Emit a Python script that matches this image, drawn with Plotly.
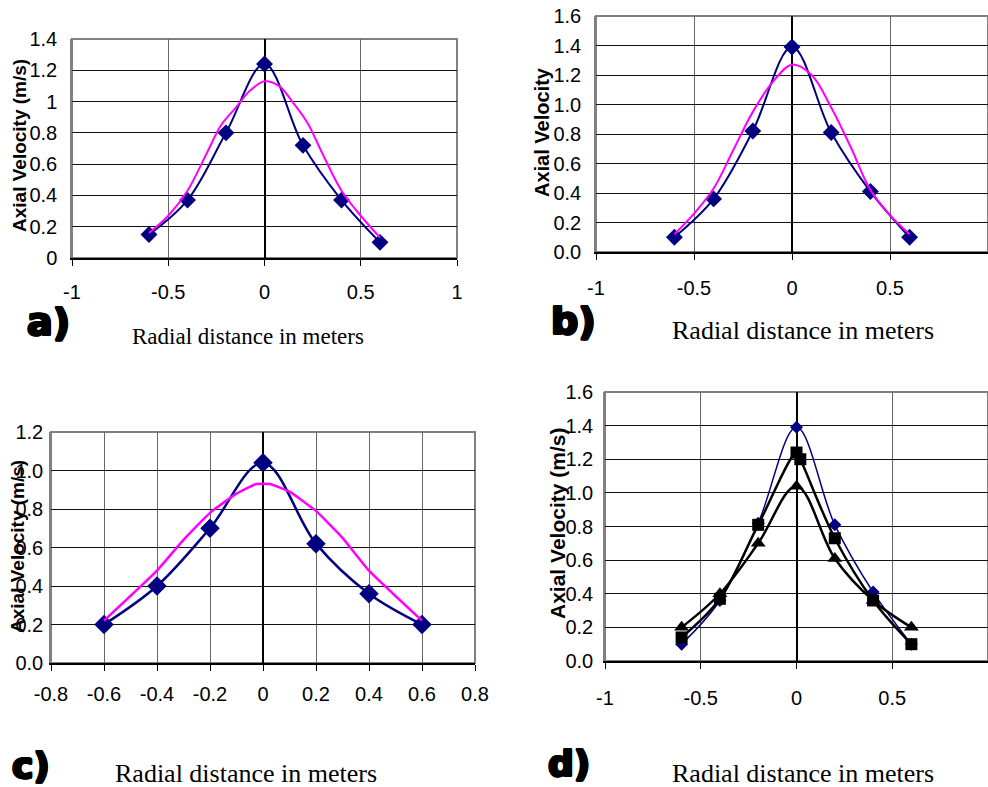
import plotly.graph_objects as go

W, H = 988, 787

# ---------------- data ----------------
x_pts = [-0.6, -0.4, -0.2, 0, 0.2, 0.4, 0.6]

# panel a
a_meas = [0.15, 0.37, 0.80, 1.24, 0.72, 0.37, 0.10]
a_model_x = [-0.6, -0.5, -0.4, -0.3, -0.225, -0.15, -0.075, 0, 0.075, 0.15, 0.225, 0.3, 0.4, 0.5, 0.6]
a_model_y = [0.16, 0.27, 0.43, 0.67, 0.85, 0.96, 1.07, 1.13, 1.10, 0.99, 0.86, 0.67, 0.43, 0.27, 0.13]

# panel b
b_meas = [0.10, 0.36, 0.82, 1.39, 0.81, 0.41, 0.10]
b_model_x = [-0.6, -0.5, -0.4, -0.3, -0.2, -0.1, 0, 0.1, 0.2, 0.3, 0.4, 0.5, 0.6]
b_model_y = [0.12, 0.26, 0.43, 0.69, 0.95, 1.15, 1.27, 1.20, 0.98, 0.71, 0.42, 0.25, 0.12]

# panel c
c_meas = [0.20, 0.40, 0.70, 1.04, 0.62, 0.36, 0.20]
c_model_x = [-0.6, -0.4, -0.3, -0.2, -0.1, -0.025, 0.025, 0.1, 0.2, 0.3, 0.4, 0.6]
c_model_y = [0.22, 0.48, 0.64, 0.78, 0.88, 0.93, 0.93, 0.89, 0.79, 0.65, 0.48, 0.22]

# panel d
d_diam = [0.10, 0.36, 0.82, 1.39, 0.81, 0.41, 0.10]
d_sq_x = [-0.6, -0.4, -0.2, 0, 0.02, 0.2, 0.4, 0.6]
d_sq_y = [0.14, 0.37, 0.81, 1.24, 1.20, 0.73, 0.36, 0.10]
d_tri = [0.20, 0.40, 0.70, 1.04, 0.61, 0.36, 0.20]

# tick labels
x_ticks_1 = [-1, -0.5, 0, 0.5, 1]
x_text_1 = ["-1", "-0.5", "0", "0.5", "1"]
x_ticks_c = [-0.8, -0.6, -0.4, -0.2, 0, 0.2, 0.4, 0.6, 0.8]
x_text_c = ["-0.8", "-0.6", "-0.4", "-0.2", "0", "0.2", "0.4", "0.6", "0.8"]
y_ticks_a = [0, 0.2, 0.4, 0.6, 0.8, 1.0, 1.2, 1.4]
y_text_a = ["0", "0.2", "0.4", "0.6", "0.8", "1", "1.2", "1.4"]
y_ticks_b = [0, 0.2, 0.4, 0.6, 0.8, 1.0, 1.2, 1.4, 1.6]
y_text_b = ["0.0", "0.2", "0.4", "0.6", "0.8", "1.0", "1.2", "1.4", "1.6"]
y_ticks_c = [0, 0.2, 0.4, 0.6, 0.8, 1.0, 1.2]
y_text_c = ["0.0", "0.2", "0.4", "0.6", "0.8", "1.0", "1.2"]

NAVY = "#000080"
MAG = "#FF00FF"
SANS = "Liberation Sans, Arial, sans-serif"
SERIF = "Liberation Serif, Times New Roman, serif"
HEAVY = "DejaVu Sans, Liberation Sans, sans-serif"
THICK = ("1.2px 0 0 #000, -1.2px 0 0 #000, 0 1.2px 0 #000, 0 -1.2px 0 #000, "
         "1px 1px 0 #000, -1px -1px 0 #000, 1px -1px 0 #000, -1px 1px 0 #000")

fig = go.Figure()

def add(x, y, ax, color, width, symbol=None, msize=0, smoothing=1.0):
    mode = "lines+markers" if symbol else "lines"
    fig.add_trace(go.Scatter(
        x=x, y=y, mode=mode, xaxis="x" + ax, yaxis="y" + ax,
        line=dict(color=color, width=width, shape="spline", smoothing=smoothing),
        marker=dict(symbol=symbol or "circle", size=msize, color=color),
        showlegend=False, hoverinfo="x+y"))

# a
add(x_pts, a_meas, "", NAVY, 2, "diamond", 13)
add(a_model_x, a_model_y, "", MAG, 2)
# b
add(x_pts, b_meas, "2", NAVY, 2, "diamond", 13)
add(b_model_x, b_model_y, "2", MAG, 2)
# c
add(x_pts, c_meas, "3", NAVY, 2.5, "diamond", 15)
add(c_model_x, c_model_y, "3", MAG, 2.5, smoothing=0.4)
# d
add(x_pts, d_diam, "4", NAVY, 1.5, "diamond", 10)
add(d_sq_x, d_sq_y, "4", "#000000", 2.5, "square", 12)
add(x_pts, d_tri, "4", "#000000", 2.5, "triangle-up", 13)

panels = {
    # key: (px_left, px_right, px_top, px_bottom, xrange, yrange, xticks, xtext, yticks, ytext, ystand, xstand)
    "": (72, 457, 39, 258, [-1, 1], [0, 1.4], x_ticks_1, x_text_1, y_ticks_a, y_text_a, 9, 9),
    "2": (596, 988, 16, 252, [-1, 1], [0, 1.6], x_ticks_1, x_text_1, y_ticks_b, y_text_b, 9, 11),
    "3": (51, 475, 432, 663, [-0.8, 0.8], [0, 1.2], x_ticks_c, x_text_c, y_ticks_c, y_text_c, 2, 6),
    "4": (605, 988, 392, 661, [-1, 1], [0, 1.6], x_ticks_1, x_text_1, y_ticks_b, y_text_b, 6, 12),
}

layout = dict(width=W, height=H, margin=dict(l=0, r=0, t=0, b=0, autoexpand=False),
              paper_bgcolor="white", plot_bgcolor="white",
              font=dict(family=SANS, color="#000"))
shapes = []
extra = 5
for key, (l, r, t, b, xr, yr, xt, xtt, yt, ytt, ys, xs) in panels.items():
    xdom = [l / W, r / W]
    ydom = [1 - b / H, 1 - t / H]
    layout["xaxis" + key] = dict(
        domain=xdom, range=xr, anchor="y" + key, automargin=False,
        tickvals=xt, ticktext=xtt, tickfont=dict(size=20, family=SANS),
        showgrid=True, gridcolor="#666666", gridwidth=1,
        zeroline=True, zerolinecolor="#000000", zerolinewidth=1.5,
        showline=True, linecolor="#000000", linewidth=1.5,
        ticks="outside", ticklen=6, tickcolor="#000000",
        ticklabelstandoff=xs, fixedrange=True)
    layout["yaxis" + key] = dict(
        domain=ydom, range=yr, anchor="x" + key, automargin=False,
        tickvals=yt, ticktext=ytt, tickfont=dict(size=20, family=SANS),
        showgrid=True, gridcolor="#111111", gridwidth=1,
        zeroline=False, showline=True, linecolor="#808080", linewidth=1.5,
        ticks="", ticklabelstandoff=ys, fixedrange=True)
    # cross tick marks on the vertical axis at x = 0
    pos = (l + (0 - xr[0]) / (xr[1] - xr[0]) * (r - l)) / W
    for side in ("left", "right"):
        layout["yaxis%d" % extra] = dict(
            overlaying="y" + key, anchor="free", position=pos, side=side,
            automargin=False, range=yr, tickvals=yt, showticklabels=False,
            showgrid=False, zeroline=False, showline=False, ticks="outside",
            ticklen=4, tickcolor="#000000", tickwidth=1.5, fixedrange=True)
        extra += 1
    # grey frame (top / right)
    shapes.append(dict(type="rect", xref="x%s domain" % key, yref="y%s domain" % key,
                       x0=0, x1=1, y0=0, y1=1, line=dict(color="#808080", width=2),
                       layer="below"))

layout["shapes"] = shapes

def ann(text, px, py, size, family=SANS, weight="normal", angle=0, shadow="none"):
    return dict(text=text, x=px / W, y=1 - py / H, xref="paper", yref="paper",
                xanchor="center", yanchor="middle", showarrow=False, textangle=angle,
                font=dict(size=size, family=family, weight=weight, color="#000",
                          shadow=shadow))

annotations = [
    ann("Axial Velocity (m/s)", 20, 146, 19, weight="bold", angle=-90),
    ann("Axial Velocity", 542, 132, 20, weight="bold", angle=-90),
    ann("Axial Velocity (m/s)", 17, 547, 19, weight="bold", angle=-90),
    ann("Axial Velocity (m/s)", 557, 524, 21, weight="bold", angle=-90),
    ann("Radial distance in meters", 248, 337, 23, family=SERIF),
    ann("Radial distance in meters", 803, 330, 26, family=SERIF),
    ann("Radial distance in meters", 246, 773, 26, family=SERIF),
    ann("Radial distance in meters", 803, 773, 26, family=SERIF),
    ann("a)", 48, 322, 38, family=HEAVY, weight="bold", shadow=THICK),
    ann("b)", 573, 321, 38, family=HEAVY, weight="bold", shadow=THICK),
    ann("c)", 31, 765, 36, family=HEAVY, weight="bold", shadow=THICK),
    ann("d)", 569, 763, 36, family=HEAVY, weight="bold", shadow=THICK),
]
layout["annotations"] = annotations

fig.update_layout(**layout)
fig.write_html("out.html", config={"displayModeBar": False},
               post_script="document.body.style.margin='0';document.body.style.overflow='hidden';")
